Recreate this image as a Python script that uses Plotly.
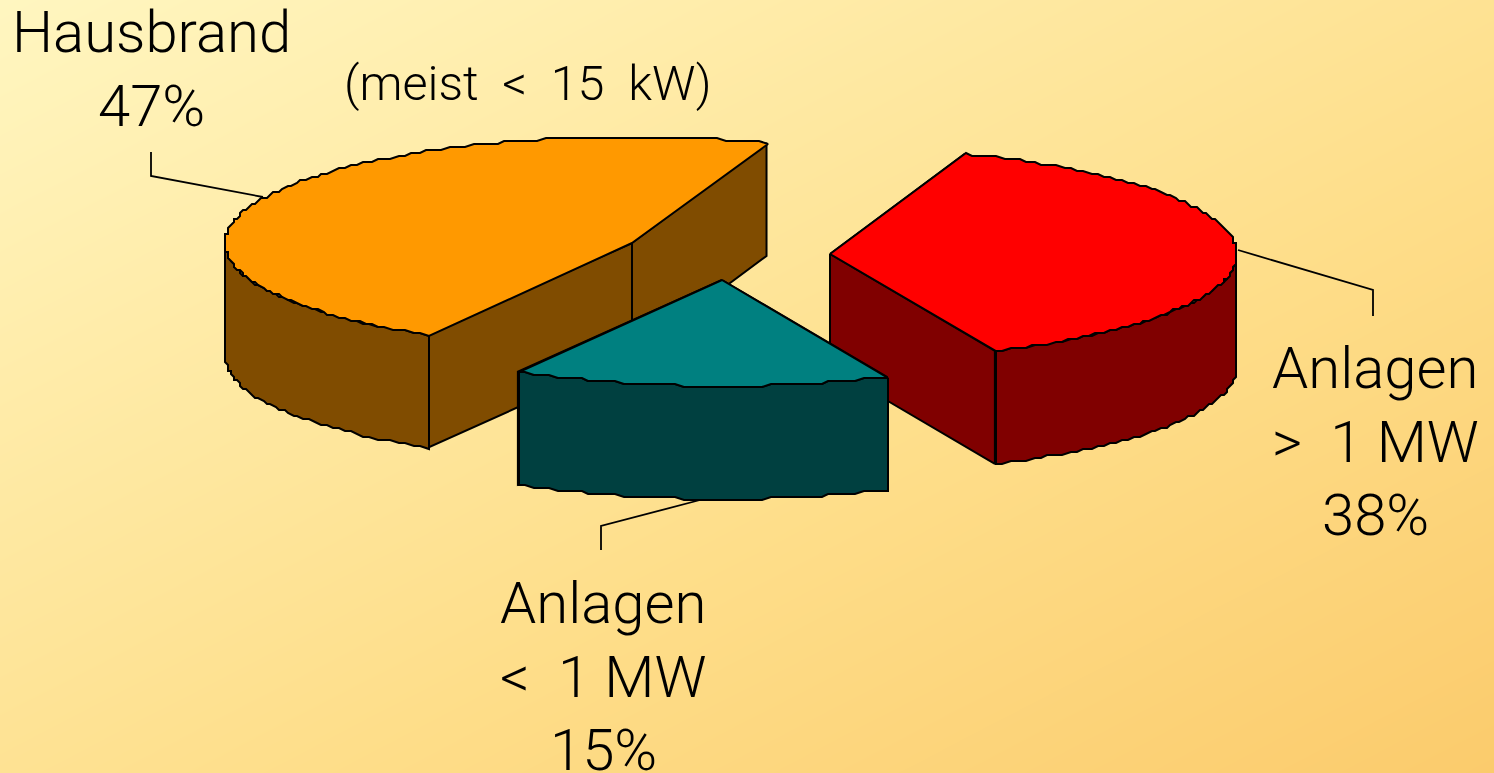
import math
import numpy as np
import plotly.graph_objects as go

# Heat supply by plant size (percent of total)
categories = [["Anlagen", "&gt;  1 MW"], ["Anlagen", "&lt;  1 MW"], ["Hausbrand"]]
shares = [38, 15, 47]
top_colors = ["#FF0000", "#008080", "#FF9900"]
side_colors = ["#800000", "#004040", "#804C00"]

W, H = 1494, 773
RX, RY, DEPTH = 407, 106, 113      # pie ellipse radii and thickness
START_ANGLE = 19.3                 # clockwise from the top of the ellipse
CENTERS = [(830, 254), (722, 280), (632, 243)]   # exploded slice apexes
DRAW_ORDER = [2, 0, 1]             # back to front
# Horizontal centre of each label block and vertical centre of its first line
LABEL_POS = [(1375, 368), (603, 603), (151, 32)]
LINE_PITCH = 73.5
LEADERS = [
    ([1238, 1373, 1373], [250, 290, 316]),
    ([700, 601, 601], [500, 526, 550]),
    ([151, 151, 263], [152, 176, 197]),
]
FONT = "Roboto"
FONT_SIZE = 58
GRID = 3.0  # coarse outline grid of the old rasterised pie edge


def arc(center, t0, t1, drop=0):
    """Ellipse arc between two clockwise angles, snapped to a coarse grid."""
    n = max(2, int(abs(t1 - t0) / 1.2))
    cx, cy = center
    xs, ys = [], []
    for t in np.linspace(t0, t1, n):
        r = math.radians(t)
        xs.append(round((cx + RX * math.sin(r)) / GRID) * GRID)
        ys.append(round((cy - RY * math.cos(r)) / GRID) * GRID + drop)
    return xs, ys


def polygon(xs, ys, color):
    return go.Scatter(
        x=list(xs) + [xs[0]], y=list(ys) + [ys[0]], mode="lines", fill="toself",
        fillcolor=color, line=dict(color="#000000", width=2),
        hoverinfo="skip", showlegend=False,
    )


fig = go.Figure()

# Diagonal background wash
gx = np.linspace(-20, W + 20, 40)
gy = np.linspace(-20, H + 20, 24)
gz = [[(x / W + y / H) / 2 for x in gx] for y in gy]
fig.add_trace(go.Heatmap(
    x=gx, y=gy, z=gz, zsmooth="best", showscale=False, hoverinfo="skip", zmin=0, zmax=1,
    colorscale=[[0, "#FFF6C0"], [0.6, "#FEDE8A"], [1, "#FBCB6C"]],
))

# Leader lines sit under the slices
for lx, ly in LEADERS:
    fig.add_trace(go.Scatter(x=lx, y=ly, mode="lines", line=dict(color="#000000", width=1.8),
                             hoverinfo="skip", showlegend=False))

# Slice angle spans follow the shares
spans = []
angle = START_ANGLE
for s in shares:
    spans.append((angle, angle + s * 3.6))
    angle += s * 3.6

for i in DRAW_ORDER:
    t0, t1 = spans[i]
    cx, cy = CENTERS[i]

    # Cut faces, the one lying further back first
    faces = []
    for t in (t0, t1):
        r = math.radians(t)
        faces.append((cx + RX * math.sin(r), cy - RY * math.cos(r)))
    for px, py in sorted(faces, key=lambda p: p[1]):
        fig.add_trace(polygon([cx, px, px, cx], [cy, py, py + DEPTH, cy + DEPTH], side_colors[i]))

    # Outer wall on the front half of the ellipse
    for shift in (0, 360):
        a, b = max(t0, 90 + shift), min(t1, 270 + shift)
        if a < b:
            ux, uy = arc((cx, cy), a, b)
            lx, ly = arc((cx, cy), a, b, DEPTH)
            fig.add_trace(polygon(ux + lx[::-1], uy + ly[::-1], side_colors[i]))

    # Top surface
    ax, ay = arc((cx, cy), t0, t1)
    fig.add_trace(polygon([cx] + ax, [cy] + ay, top_colors[i]))

annotations = []


def add_text(x, y, text, size=FONT_SIZE):
    annotations.append(dict(
        x=x, y=y, xref="x", yref="y", xanchor="center", yanchor="middle",
        text=text, showarrow=False, align="center",
        font=dict(family=FONT, size=size, color="#000000", weight=300),
    ))


for name_lines, share, (lx, ly) in zip(categories, shares, LABEL_POS):
    for k, line in enumerate(name_lines + [f"{share}%"]):
        add_text(lx, ly + k * LINE_PITCH, line)
add_text(528, 83, "(meist  &lt;  15  kW)", 48.5)

fig.update_layout(
    width=W, height=H, margin=dict(l=0, r=0, t=0, b=0),
    paper_bgcolor="#FEDE8A", plot_bgcolor="rgba(0,0,0,0)",
    xaxis=dict(range=[0, W], visible=False, fixedrange=True),
    yaxis=dict(range=[H, 0], visible=False, fixedrange=True),
    annotations=annotations, showlegend=False,
)

fig.write_html("out.html", config={"displayModeBar": False})
